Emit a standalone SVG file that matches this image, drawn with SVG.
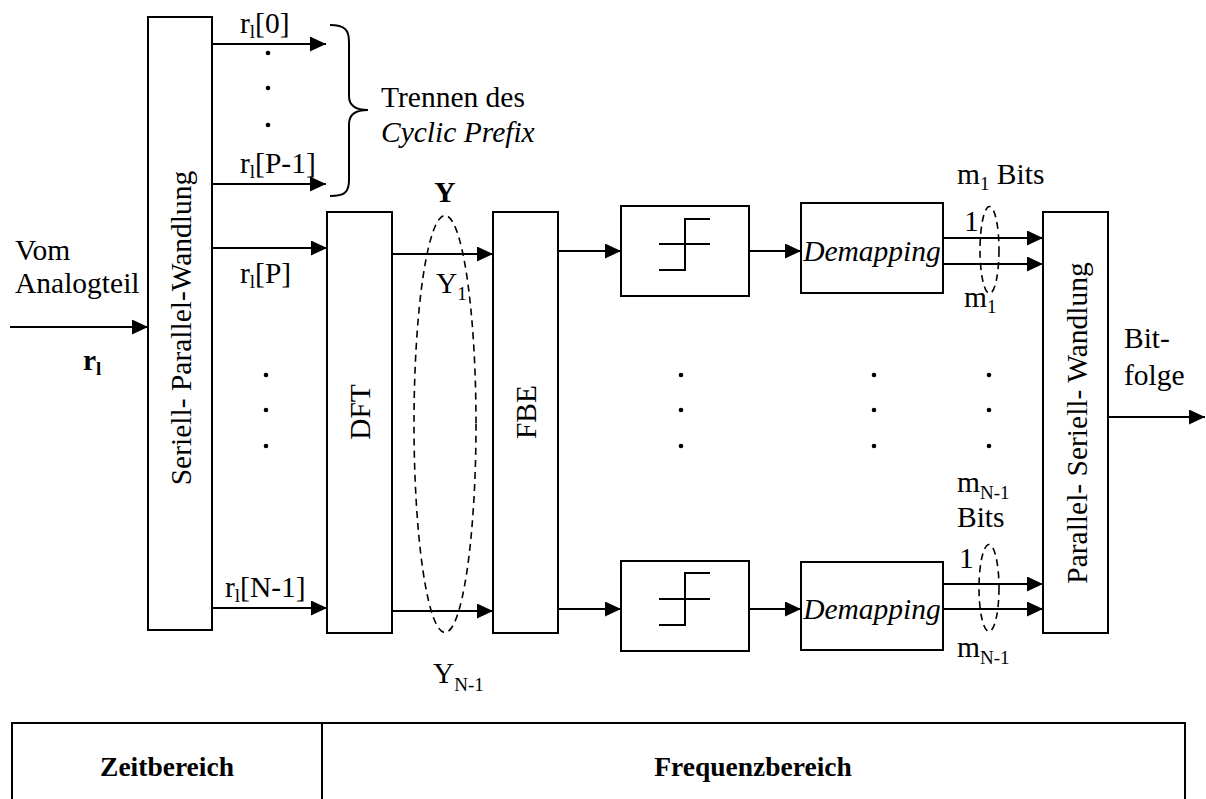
<svg xmlns="http://www.w3.org/2000/svg" width="1206" height="799" viewBox="0 0 1206 799" font-family="'Liberation Serif', 'DejaVu Serif', serif">
<style>
text{font-family:"Liberation Serif","DejaVu Serif",serif;font-size:29.5px;fill:#000}
.it{font-style:italic}
.b{font-weight:bold}
.sub{font-size:19px}
.box{fill:#fff;stroke:#000;stroke-width:2}
.ln{fill:none;stroke:#000;stroke-width:2}
.arr{fill:none;stroke:#000;stroke-width:2;marker-end:url(#ah)}
.dash{fill:none;stroke:#000;stroke-width:1.6;stroke-dasharray:7,5}
.tb{font-weight:bold;font-size:27.5px}
</style>
<defs>
<marker id="ah" markerUnits="userSpaceOnUse" markerWidth="17" markerHeight="16" refX="16" refY="7.5" orient="auto">
<path d="M0,0 L16,7.5 L0,15 z" fill="#000"/>
</marker>
</defs>

<g id="connectors">
<path class="arr" d="M10,327 H148"/>
<path class="arr" d="M212,44 H326"/>
<path class="arr" d="M212,184 H326"/>
<path class="arr" d="M212,248 H327"/>
<path class="arr" d="M212,608 H327"/>
<path class="arr" d="M392,254 H493"/>
<path class="arr" d="M392,611 H493"/>
<path class="arr" d="M558,251 H621"/>
<path class="arr" d="M558,609 H621"/>
<path class="arr" d="M749,251 H801"/>
<path class="arr" d="M749,609 H801"/>
<path class="arr" d="M943,238 H1043"/>
<path class="arr" d="M943,264 H1043"/>
<path class="arr" d="M943,584 H1043"/>
<path class="arr" d="M943,609 H1043"/>
<path class="arr" d="M1108,417 H1205"/>
</g>

<g id="sp">
<rect class="box" x="148" y="17" width="64" height="613"/>
<text transform="translate(191,328) rotate(-90)" text-anchor="middle">Seriell- Parallel-Wandlung</text>
</g>

<g id="dft">
<rect class="box" x="327" y="212" width="65" height="421"/>
<text transform="translate(369.5,412) rotate(-90)" text-anchor="middle">DFT</text>
</g>

<g id="fbe">
<rect class="box" x="493" y="212" width="65" height="421"/>
<text transform="translate(535.5,412) rotate(-90)" text-anchor="middle">FBE</text>
</g>

<g id="quant1">
<rect class="box" x="621" y="206" width="128" height="90"/>
<path class="ln" d="M659,270 H685 V219 H710 M659,244 H710"/>
</g>
<g id="quant2">
<rect class="box" x="621" y="561" width="128" height="90"/>
<path class="ln" d="M659,625 H685 V573 H710 M659,599 H710"/>
</g>

<g id="demap1">
<rect class="box" x="801" y="203" width="142" height="90"/>
<text class="it" x="872" y="261" text-anchor="middle">Demapping</text>
</g>
<g id="demap2">
<rect class="box" x="801" y="562" width="142" height="88"/>
<text class="it" x="872" y="619" text-anchor="middle">Demapping</text>
</g>

<g id="ps">
<rect class="box" x="1043" y="212" width="65" height="421"/>
<text transform="translate(1087,423) rotate(-90)" text-anchor="middle">Parallel- Seriell- Wandlung</text>
</g>

<g id="labels">
<text x="15" y="260">Vom</text>
<text x="15" y="293">Analogteil</text>
<text class="b" x="83" y="370">r<tspan class="sub" dy="5">l</tspan></text>

<text x="240" y="33">r<tspan class="sub" dy="5">l</tspan><tspan dy="-5">[0]</tspan></text>
<text x="240" y="173">r<tspan class="sub" dy="5">l</tspan><tspan dy="-5">[P-1]</tspan></text>
<text x="240" y="283">r<tspan class="sub" dy="5">l</tspan><tspan dy="-5">[P]</tspan></text>
<text x="225" y="597">r<tspan class="sub" dy="5">l</tspan><tspan dy="-5">[N-1]</tspan></text>

<path class="ln" d="M330,25 C345,25 349,30 349,42 V96 C349,106 356,110 368,110 C356,110 349,114 349,124 V180 C349,192 345,196 330,196"/>
<text x="381" y="107">Trennen des</text>
<text class="it" x="381" y="142">Cyclic Prefix</text>

<text class="b" x="445" y="202" text-anchor="middle">Y</text>
<ellipse class="dash" cx="445" cy="424" rx="31" ry="208.5"/>
<text x="436" y="293">Y<tspan class="sub" dy="7">1</tspan></text>
<text x="433" y="683">Y<tspan class="sub" dy="8">N-1</tspan></text>

<text x="957" y="184">m<tspan class="sub" dy="6">1</tspan><tspan dy="-6"> Bits</tspan></text>
<text x="964" y="231">1</text>
<ellipse class="dash" cx="989.5" cy="250" rx="9.5" ry="43.5"/>
<text x="964" y="307">m<tspan class="sub" dy="6">1</tspan></text>

<text x="957" y="492">m<tspan class="sub" dy="7">N-1</tspan></text>
<text x="957" y="527">Bits</text>
<text x="959" y="568">1</text>
<ellipse class="dash" cx="989" cy="588" rx="10" ry="43.5"/>
<text x="957" y="657">m<tspan class="sub" dy="7">N-1</tspan></text>

<text x="1124" y="348">Bit-</text>
<text x="1124" y="385">folge</text>
</g>

<g id="dots" fill="#000">
<circle cx="268" cy="53" r="2.3"/><circle cx="268" cy="88" r="2.3"/><circle cx="268" cy="125" r="2.3"/>
<circle cx="266" cy="375" r="2.3"/><circle cx="266" cy="410" r="2.3"/><circle cx="266" cy="446" r="2.3"/>
<circle cx="681" cy="375" r="2.3"/><circle cx="681" cy="410" r="2.3"/><circle cx="681" cy="446" r="2.3"/>
<circle cx="874" cy="375" r="2.3"/><circle cx="874" cy="410" r="2.3"/><circle cx="874" cy="446" r="2.3"/>
<circle cx="989" cy="375" r="2.3"/><circle cx="989" cy="410" r="2.3"/><circle cx="989" cy="446" r="2.3"/>
</g>

<g id="table">
<path class="ln" d="M12,805 V723 H1185 V805 M322,723 V805"/>
<text class="tb" x="167" y="776" text-anchor="middle">Zeitbereich</text>
<text class="tb" x="753" y="776" text-anchor="middle">Frequenzbereich</text>
</g>
</svg>
